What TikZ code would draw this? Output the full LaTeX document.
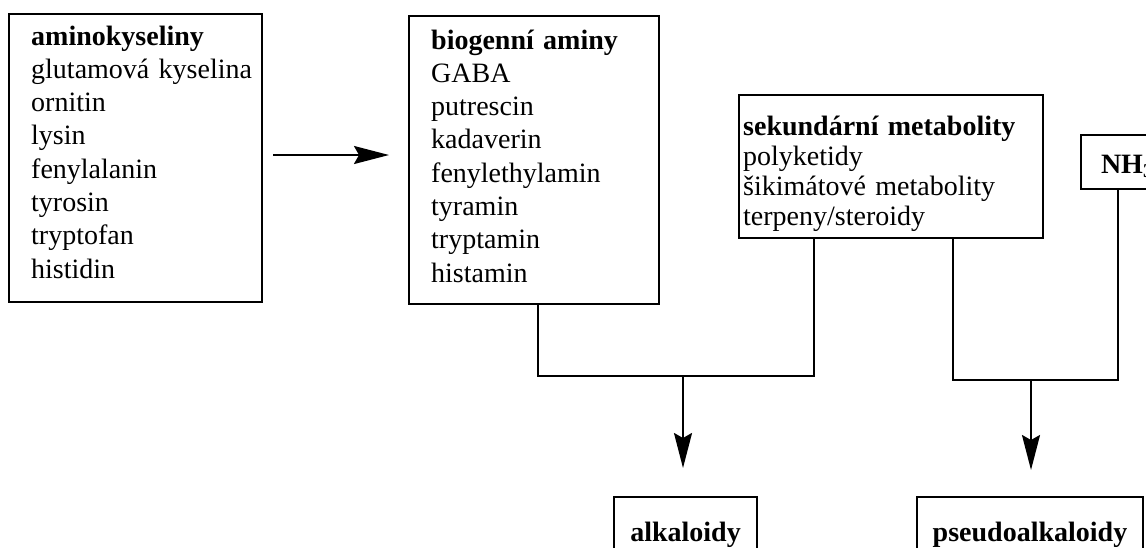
\documentclass[tikz,border=0pt]{standalone}
\usepackage{fontspec}
\setmainfont{Liberation Serif}
\usetikzlibrary{arrows.meta}
\tikzset{
  box/.style={draw, line width=2pt, inner sep=0pt, anchor=north west},
  txt/.style={anchor=base west, inner sep=0pt, align=left, text width=#1},
  txt/.default=300pt,
  conn/.style={line width=2pt},
  arr/.style={line width=2pt, -{Stealth[length=35pt, width=18pt, inset=5pt]}},
  big/.style={font=\fontsize{28}{33.3}\selectfont},
  bigc/.style={font=\fontsize{28}{30}\selectfont},
}
\begin{document}
\begin{tikzpicture}[x=1pt, y=-1pt]
\path[use as bounding box, clip] (0,0) rectangle (1146,547);
\fill[white] (0,0) rectangle (1146,547);
% boxes
\node[box, minimum width=253pt, minimum height=288pt] (A) at (8,13) {};
\node[box, minimum width=250pt, minimum height=288pt] (B) at (408,15) {};
\node[box, minimum width=304pt, minimum height=143pt] (C) at (738,94) {};
% texts
\node[txt, big] (At) at (31,45) {\textbf{aminokyseliny}\\glutamová kyselina\\ornitin\\lysin\\fenylalanin\\tyrosin\\tryptofan\\histidin};
\node[txt, big] (Bt) at (431,49) {\textbf{biogenní aminy}\\GABA\\putrescin\\kadaverin\\fenylethylamin\\tyramin\\tryptamin\\histamin};
\node[txt, bigc] (Ct) at (743,135) {\textbf{sekundární metabolity}\\polyketidy\\šikimátové metabolity\\terpeny/steroidy};
% NH3
\node[draw, line width=2pt, anchor=north west, inner xsep=20pt, inner ysep=0pt,
      minimum height=54pt, text height=22pt, text depth=0pt, big] (N) at (1080,134) {\textbf{NH\textsubscript{3}}};
% results
\node[draw, line width=2pt, anchor=north, minimum width=143pt, inner ysep=24pt,
      text height=20pt, text depth=20pt, big] (alk) at (685.5,496) {\textbf{alkaloidy}};
\node[draw, line width=2pt, anchor=north, minimum width=226pt, inner ysep=24pt,
      text height=20pt, text depth=20pt, big] (pseudo) at (1030,496) {\textbf{pseudoalkaloidy}};
% junctions
\coordinate (j1) at (683,376);
\coordinate (j2) at (1031,380);
% connectors
\draw[arr, shorten <=10pt, shorten >=19pt] ([yshift=3pt]A.east) -- ([yshift=3pt]A.east -| B.west);
\draw[conn] ([xshift=4pt]B.south) |- (j1) -| ([xshift=-77pt]C.south);
\draw[arr, shorten >=28pt] (j1) -- (j1 |- alk.north);
\draw[conn] ([xshift=62pt]C.south) |- (j2) -| ([xshift=-9pt]N.south);
\draw[arr, shorten >=26pt] (j2) -- (j2 |- pseudo.north);
\end{tikzpicture}
\end{document}
